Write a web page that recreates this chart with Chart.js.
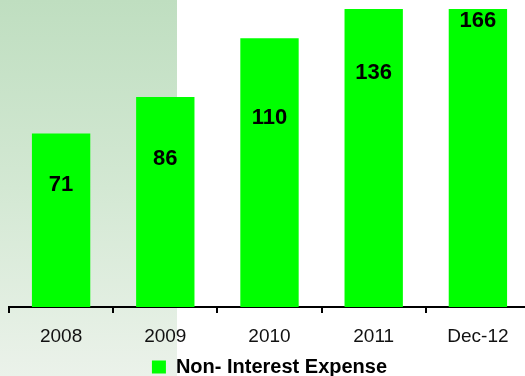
<!DOCTYPE html>
<html>
<head>
<meta charset="utf-8">
<script src="https://cdn.jsdelivr.net/npm/chart.js@4"></script>
<style>
  html, body { margin: 0; padding: 0; background: #fff; overflow: hidden; }
  #wrap { width: 530px; height: 376px; }
</style>
</head>
<body>
<div id="wrap"><canvas id="expenseChart" width="530" height="376"></canvas></div>
<script>
// Non-interest expense by year
const years = ['2008', '2009', '2010', '2011', 'Dec-12'];
const expense = [71, 86, 110, 136, 166];
const seriesName = 'Non- Interest Expense';

const fontFamily = '"Liberation Sans", Arial, sans-serif';

// shaded panel behind the left part of the chart
const panelBackground = {
    id: 'panelBackground',
    beforeDraw(chart) {
        const ctx = chart.ctx;
        ctx.save();
        ctx.fillStyle = '#ffffff';
        ctx.fillRect(0, 0, chart.width, chart.height);
        const g = ctx.createLinearGradient(0, 0, 0, chart.height);
        g.addColorStop(0, '#bfdec0');
        g.addColorStop(0.5, '#d3e8d3');
        g.addColorStop(1, '#ebf2ea');
        ctx.fillStyle = g;
        ctx.fillRect(0, 0, 177, chart.height);
        ctx.restore();
    }
};

// value labels inside each bar
const barLabels = {
    id: 'barLabels',
    afterDatasetsDraw(chart) {
        const ctx = chart.ctx;
        const yScale = chart.scales.y;
        const meta = chart.getDatasetMeta(0);
        ctx.save();
        ctx.font = 'bold 22px ' + fontFamily;
        ctx.fillStyle = '#000';
        ctx.textAlign = 'center';
        ctx.textBaseline = 'middle';
        meta.data.forEach((bar, i) => {
            const v = expense[i];
            ctx.fillText(String(v), bar.x, yScale.getPixelForValue(v * 0.705));
        });
        ctx.restore();
    }
};

const ctx = document.getElementById('expenseChart').getContext('2d');
new Chart(ctx, {
    type: 'bar',
    data: {
        labels: years,
        datasets: [{
            label: seriesName,
            data: expense,
            backgroundColor: '#00ff00',
            borderWidth: 0,
            barPercentage: 0.56,
            categoryPercentage: 1
        }]
    },
    options: {
        responsive: false,
        animation: false,
        layout: { padding: { left: 9, top: 9, right: 0, bottom: -11 } },
        plugins: {
            legend: {
                position: 'bottom',
                labels: {
                    boxWidth: 14,
                    boxHeight: 13,
                    color: '#000',
                    padding: 0,
                    font: { family: fontFamily, size: 20, weight: 'bold', lineHeight: 1 }
                }
            },
            tooltip: { enabled: false }
        },
        scales: {
            x: {
                grid: { drawOnChartArea: false, drawTicks: true, tickLength: 6, color: '#000', lineWidth: 2 },
                border: { color: '#000', width: 2 },
                ticks: {
                    color: '#111',
                    padding: 12,
                    font: { family: fontFamily, size: 19 }
                },
                afterFit(scale) {
                    scale.height = 50;
                }
            },
            y: {
                display: false,
                min: 0,
                max: 122
            }
        }
    },
    plugins: [panelBackground, barLabels]
});
</script>
</body>
</html>
